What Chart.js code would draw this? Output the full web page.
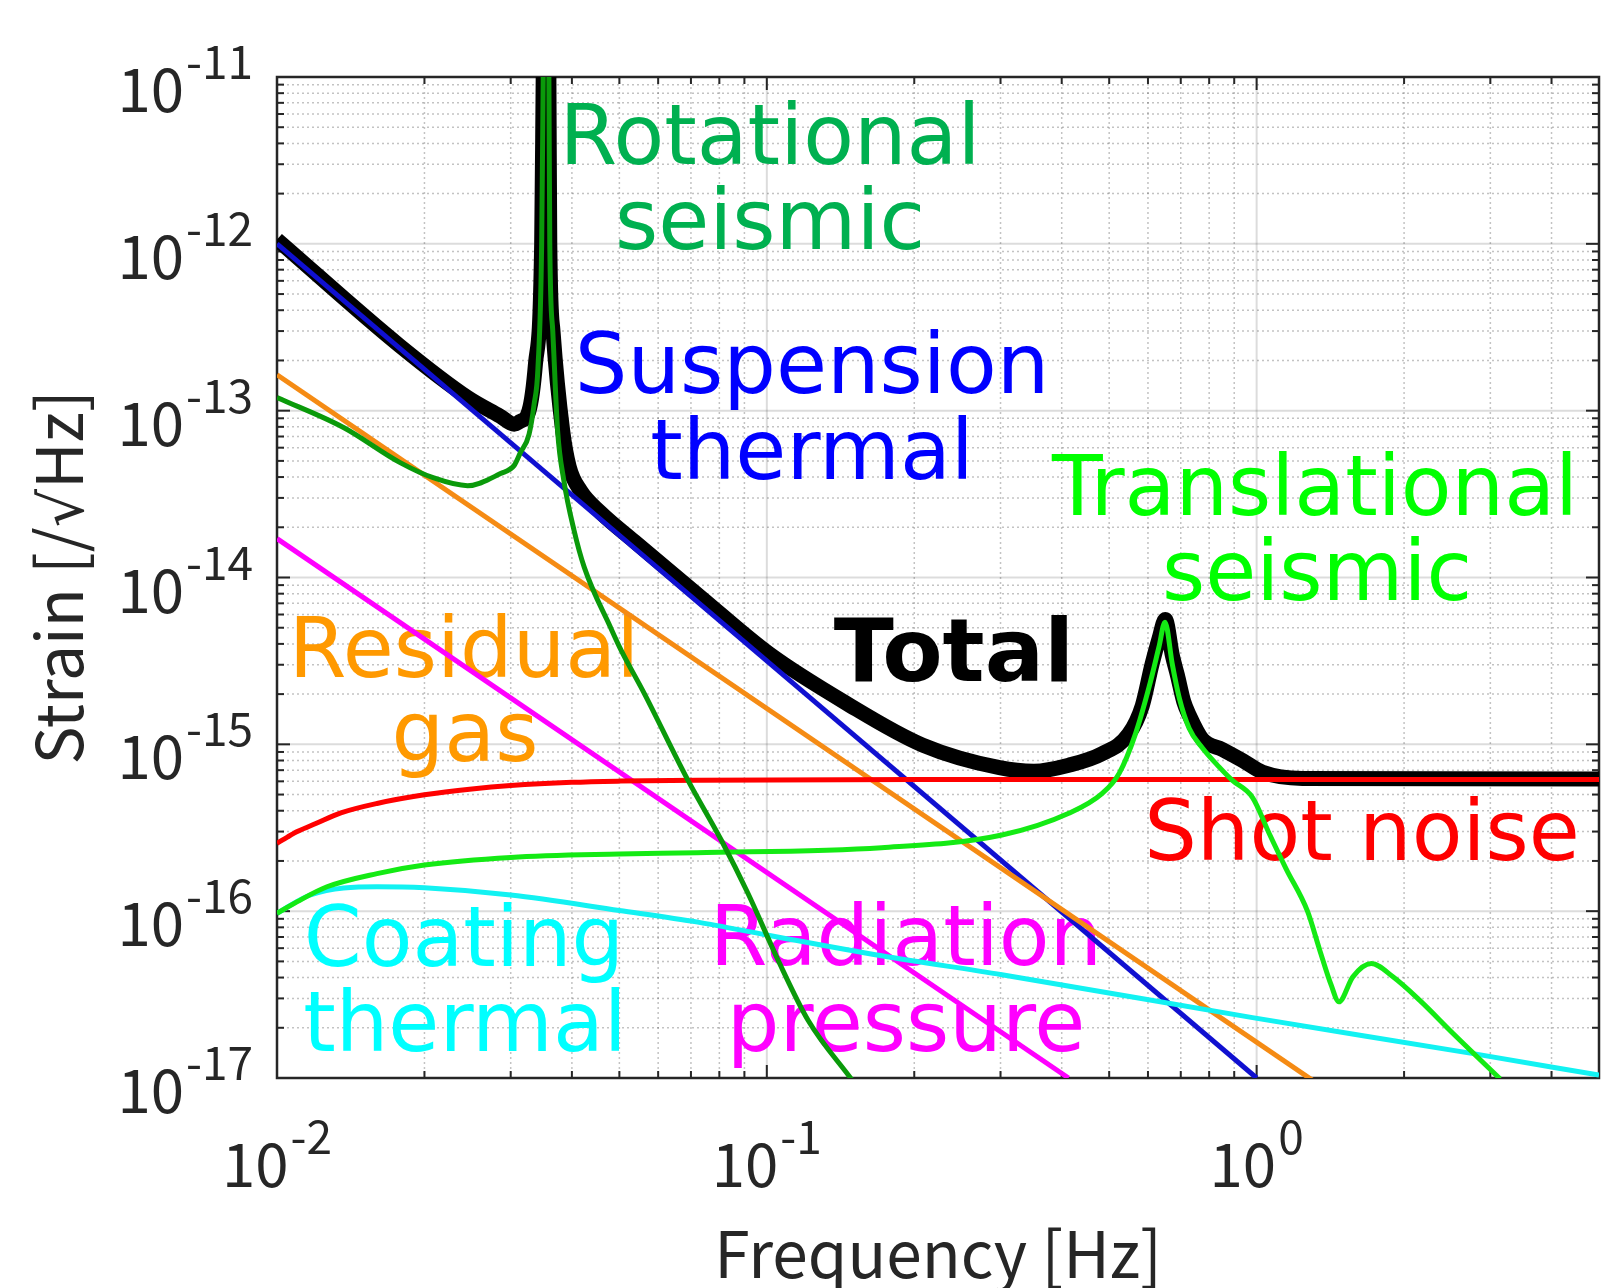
<!DOCTYPE html>
<html lang="en">
<head>
  <meta charset="UTF-8">
  <title>Strain noise budget</title>
  <style>
    html, body { margin: 0; padding: 0; background: #ffffff; }
    canvas { display: block; }
  </style>
</head>
<body>
  <canvas id="noiseChart" width="1602" height="1288"></canvas>

  <script src="https://cdn.jsdelivr.net/npm/chart.js"></script>
  <script>
    // axes
    const xRange = [0.01, 5];
    const yRange = [1e-17, 1e-11];
    const xTickExps = [-2, -1, 0];
    const yTickExps = [-17, -16, -15, -14, -13, -12, -11];
    const xTitle = 'Frequency [Hz]';
    const yTitleParts = ['Strain [/', '√', 'Hz]'];

    // suspension thermal
    const suspF = [0.01, 1.0];
    const suspH = [1.0e-12, 1.0e-17];

    // residual gas
    const gasF = [0.01, 1.30];
    const gasH = [1.64e-13, 9.7e-18];

    // radiation pressure
    const radF = [0.01, 0.413];
    const radH = [1.71e-14, 1.0e-17];

    // shot noise
    const shotF = [0.01, 0.0105, 0.011, 0.012, 0.0135, 0.016, 0.02, 0.025, 0.03, 0.04, 0.05, 0.072, 0.2, 1.0, 5.0];
    const shotH = [2.55e-16, 2.78e-16, 3.0e-16, 3.35e-16, 3.88e-16, 4.42e-16, 4.98e-16, 5.4e-16, 5.66e-16, 5.92e-16, 6.02e-16, 6.1e-16, 6.15e-16, 6.15e-16, 6.15e-16];

    // coating thermal
    const coatF = [0.01, 0.0117, 0.016, 0.02, 0.03, 0.05, 0.0723, 0.1, 0.1715, 0.302, 0.981, 2.768, 5.0];
    const coatH = [9.7e-17, 1.25e-16, 1.40e-16, 1.38e-16, 1.25e-16, 1.01e-16, 8.6e-17, 7.2e-17, 5.4e-17, 4.16e-17, 2.3e-17, 1.4e-17, 1.04e-17];

    // rotational seismic
    const rotF = [0.01, 0.0137, 0.0178, 0.0209, 0.0245, 0.0286, 0.0305, 0.0314, 0.0327, 0.0335, 0.0341, 0.0347, 0.03495, 0.03545,
                  0.0359, 0.03605, 0.03656, 0.0374, 0.0385, 0.0404, 0.0424, 0.048, 0.0504, 0.0562, 0.069, 0.0807, 0.0915, 0.1054, 0.1214, 0.149];
    const rotH = [1.2e-13, 7.9e-14, 4.9e-14, 3.95e-14, 3.55e-14, 4.2e-14, 4.7e-14, 5.6e-14, 7.2e-14, 1.1e-13, 1.8e-13, 1e-12, 1e-11, 1e-9,
                  1e-11, 1e-12, 3e-13, 7.6e-14, 3.84e-14, 1.92e-14, 1.15e-14, 5.0e-15, 3.67e-15, 2.02e-15, 6.1e-16, 2.67e-16, 1.28e-16, 5.1e-17, 2.22e-17, 9.8e-18];

    // translational seismic
    const transF = [0.01, 0.011, 0.01265, 0.016, 0.02, 0.03, 0.05, 0.072, 0.1715, 0.302, 0.4136, 0.484, 0.524, 0.566, 0.603, 0.632, 0.650,
                    0.673, 0.695, 0.728, 0.775, 0.839, 0.891, 0.981, 1.062, 1.148, 1.27, 1.344, 1.42, 1.472, 1.572, 1.714, 1.898, 2.153, 2.518, 3.14];
    const transH = [9.7e-17, 1.14e-16, 1.4e-16, 1.68e-16, 1.89e-16, 2.1e-16, 2.2e-16, 2.24e-16, 2.4e-16, 2.86e-16, 3.86e-16, 5.08e-16, 6.7e-16, 1.16e-15, 2.2e-15, 3.85e-15, 5.4e-15,
                    3.0e-15, 1.9e-15, 1.25e-15, 9.5e-16, 7.3e-16, 6.1e-16, 4.8e-16, 2.9e-16, 1.8e-16, 1.0e-16, 5.9e-17, 3.6e-17, 2.86e-17, 4.04e-17, 4.85e-17, 4.04e-17, 2.92e-17, 1.85e-17, 9.9e-18];

    // total
    const totalF = [0.01, 0.0178, 0.0245, 0.0285, 0.0305, 0.0313, 0.0327, 0.0337, 0.0347, 0.03495, 0.03545, 0.0359, 0.03605, 0.0366,
                    0.0383, 0.0395, 0.0417, 0.0458, 0.0536, 0.0734, 0.101, 0.145, 0.208, 0.2985, 0.351, 0.4136, 0.484, 0.548, 0.584,
                    0.612, 0.632, 0.651, 0.673, 0.689, 0.71, 0.728, 0.775, 0.852, 0.936, 1.029, 1.24, 5.0];
    const totalH = [1.06e-12, 2.45e-13, 1.2e-13, 9.3e-14, 8.3e-14, 8.6e-14, 1.0e-13, 1.9e-13, 1e-12, 1e-11, 1e-9, 1e-11, 1e-12, 3e-13,
                    7.6e-14, 4.6e-14, 3.3e-14, 2.45e-14, 1.65e-14, 7.6e-15, 3.5e-15, 1.77e-15, 9.9e-16, 7.25e-16, 6.9e-16, 7.5e-16, 8.8e-16, 1.15e-15, 1.7e-15,
                    3.05e-15, 4.3e-15, 5.6e-15, 3.4e-15, 2.6e-15, 1.8e-15, 1.5e-15, 1.07e-15, 9.3e-16, 8.0e-16, 6.8e-16, 6.25e-16, 6.2e-16];

    // curve labels drawn inside the plot (pixel anchors: centre, baseline)
    const notes = [
      { text: 'Rotational', color: '#00b050', x: 770, y: 164 },
      { text: 'seismic', color: '#00b050', x: 770, y: 249 },
      { text: 'Suspension', color: '#0000ff', x: 812, y: 393 },
      { text: 'thermal', color: '#0000ff', x: 812, y: 479 },
      { text: 'Translational', color: '#00ff00', x: 1315, y: 515 },
      { text: 'seismic', color: '#00ff00', x: 1317, y: 600 },
      { text: 'Total', color: '#000000', x: 954, y: 681, bold: true },
      { text: 'Residual', color: '#ff9900', x: 464, y: 677 },
      { text: 'gas', color: '#ff9900', x: 465, y: 761 },
      { text: 'Shot noise', color: '#ff0000', x: 1362, y: 860 },
      { text: 'Coating', color: '#00ffff', x: 464, y: 966 },
      { text: 'thermal', color: '#00ffff', x: 465, y: 1051 },
      { text: 'Radiation', color: '#ff00ff', x: 906, y: 965 },
      { text: 'pressure', color: '#ff00ff', x: 906, y: 1051 }
    ];

    const axisInk = '#262626';
    const tickFont = '"Noto Sans CJK JP", "Noto Sans", sans-serif';

    function series(fs, hs) {
      return fs.map((f, i) => ({ x: f, y: hs[i] }));
    }

    function logSteps(min, max) {
      const out = [];
      for (let e = Math.floor(Math.log10(min)); e <= Math.ceil(Math.log10(max)); e++) {
        for (let m = 1; m <= 9; m++) {
          const v = m * Math.pow(10, e);
          if (v >= min * 0.9999 && v <= max * 1.0001) out.push({ v: v, major: m === 1 });
        }
      }
      return out;
    }

    function line(ctx, x1, y1, x2, y2) {
      ctx.beginPath();
      ctx.moveTo(x1, y1);
      ctx.lineTo(x2, y2);
      ctx.stroke();
    }

    // "10" with a raised exponent
    function powerLabel(ctx, exp, x, base, align) {
      const sup = String(exp);
      ctx.font = '60px ' + tickFont;
      const wb = ctx.measureText('10').width;
      ctx.font = '46px ' + tickFont;
      const ws = ctx.measureText(sup).width;
      const gap = 2;
      let left = align === 'right' ? x - ws - gap - wb : x - (wb + gap + ws) / 2;
      ctx.textAlign = 'left';
      ctx.textBaseline = 'alphabetic';
      ctx.font = '60px ' + tickFont;
      ctx.fillText('10', left, base);
      ctx.font = '46px ' + tickFont;
      ctx.fillText(sup, left + wb + gap, base - 33);
    }

    const frame = {
      id: 'frame',
      beforeDatasetsDraw(chart) {
        const { ctx, chartArea: a, scales: { x, y } } = chart;
        ctx.save();

        // grid
        const major = () => { ctx.setLineDash([]); ctx.strokeStyle = 'rgba(38,38,38,0.16)'; ctx.lineWidth = 2; };
        const minor = () => { ctx.setLineDash([2, 3]); ctx.strokeStyle = 'rgba(38,38,38,0.28)'; ctx.lineWidth = 1.5; };
        logSteps(xRange[0], xRange[1]).forEach(t => {
          const px = x.getPixelForValue(t.v);
          t.major ? major() : minor();
          line(ctx, px, a.top, px, a.bottom);
        });
        logSteps(yRange[0], yRange[1]).forEach(t => {
          const py = y.getPixelForValue(t.v);
          t.major ? major() : minor();
          line(ctx, a.left, py, a.right, py);
        });
        ctx.setLineDash([]);

        // inward ticks on all four sides
        ctx.strokeStyle = axisInk;
        ctx.lineWidth = 2;
        logSteps(xRange[0], xRange[1]).forEach(t => {
          const px = x.getPixelForValue(t.v);
          const len = t.major ? 13 : 7;
          line(ctx, px, a.bottom, px, a.bottom - len);
          line(ctx, px, a.top, px, a.top + len);
        });
        logSteps(yRange[0], yRange[1]).forEach(t => {
          const py = y.getPixelForValue(t.v);
          const len = t.major ? 13 : 7;
          line(ctx, a.left, py, a.left + len, py);
          line(ctx, a.right, py, a.right - len, py);
        });

        // box
        ctx.lineWidth = 2.5;
        ctx.strokeRect(a.left, a.top, a.right - a.left, a.bottom - a.top);

        // tick labels
        ctx.fillStyle = axisInk;
        xTickExps.forEach(e => powerLabel(ctx, e, x.getPixelForValue(Math.pow(10, e)), a.bottom + 109, 'center'));
        yTickExps.forEach(e => powerLabel(ctx, e, a.left - 24, y.getPixelForValue(Math.pow(10, e)) + 35, 'right'));

        // axis titles
        ctx.font = '64px ' + tickFont;
        ctx.textAlign = 'center';
        ctx.textBaseline = 'alphabetic';
        ctx.fillText(xTitle, (a.left + a.right) / 2, a.bottom + 200);

        // y title: the radical comes from DejaVu (no overbar)
        const fonts = ['64px ' + tickFont, '60px "DejaVu Sans", sans-serif', '64px ' + tickFont];
        const widths = yTitleParts.map((p, i) => { ctx.font = fonts[i]; return ctx.measureText(p).width; });
        const total = widths.reduce((s, w) => s + w, 0);
        ctx.save();
        ctx.translate(83, (a.top + a.bottom) / 2);
        ctx.rotate(-Math.PI / 2);
        ctx.textAlign = 'left';
        let cx = -total / 2;
        yTitleParts.forEach((p, i) => {
          ctx.font = fonts[i];
          ctx.fillText(p, cx, 0);
          cx += widths[i];
        });
        ctx.restore();

        // curve names (under the lines, as in the source figure)
        ctx.textAlign = 'center';
        notes.forEach(n => {
          ctx.font = n.bold ? 'bold 88px "DejaVu Sans", Verdana, sans-serif' : '83px "DejaVu Sans", Verdana, sans-serif';
          ctx.fillStyle = n.color;
          ctx.fillText(n.text, n.x, n.y);
        });

        ctx.restore();
      }
    };

    const thin = 5;
    const ctx = document.getElementById('noiseChart').getContext('2d');
    new Chart(ctx, {
      type: 'line',
      data: {
        datasets: [
          { label: 'Rotational seismic', data: series(rotF, rotH), borderColor: '#0a9a0a', borderWidth: thin, cubicInterpolationMode: 'monotone' },
          { label: 'Translational seismic', data: series(transF, transH), borderColor: '#14ea14', borderWidth: thin, cubicInterpolationMode: 'monotone' },
          { label: 'Shot noise', data: series(shotF, shotH), borderColor: '#ff0000', borderWidth: thin, cubicInterpolationMode: 'monotone' },
          { label: 'Coating thermal', data: series(coatF, coatH), borderColor: '#12f2f2', borderWidth: thin, cubicInterpolationMode: 'monotone' },
          { label: 'Radiation pressure', data: series(radF, radH), borderColor: '#ff00ff', borderWidth: thin },
          { label: 'Residual gas', data: series(gasF, gasH), borderColor: '#f58b14', borderWidth: thin },
          { label: 'Suspension thermal', data: series(suspF, suspH), borderColor: '#1010d0', borderWidth: thin },
          { label: 'Total', data: series(totalF, totalH), borderColor: '#000000', borderWidth: 15, cubicInterpolationMode: 'monotone' }
        ]
      },
      options: {
        responsive: false,
        animation: false,
        layout: { padding: { left: 277, right: 3, top: 77, bottom: 210 } },
        elements: {
          point: { radius: 0, hoverRadius: 0 },
          line: { fill: false, tension: 0, borderJoinStyle: 'round', borderCapStyle: 'butt' }
        },
        datasets: { line: { clip: 0 } },
        scales: {
          x: { type: 'logarithmic', min: xRange[0], max: xRange[1], display: false },
          y: { type: 'logarithmic', min: yRange[0], max: yRange[1], display: false }
        },
        plugins: { legend: { display: false }, tooltip: { enabled: false } }
      },
      plugins: [frame]
    });
  </script>
</body>
</html>
